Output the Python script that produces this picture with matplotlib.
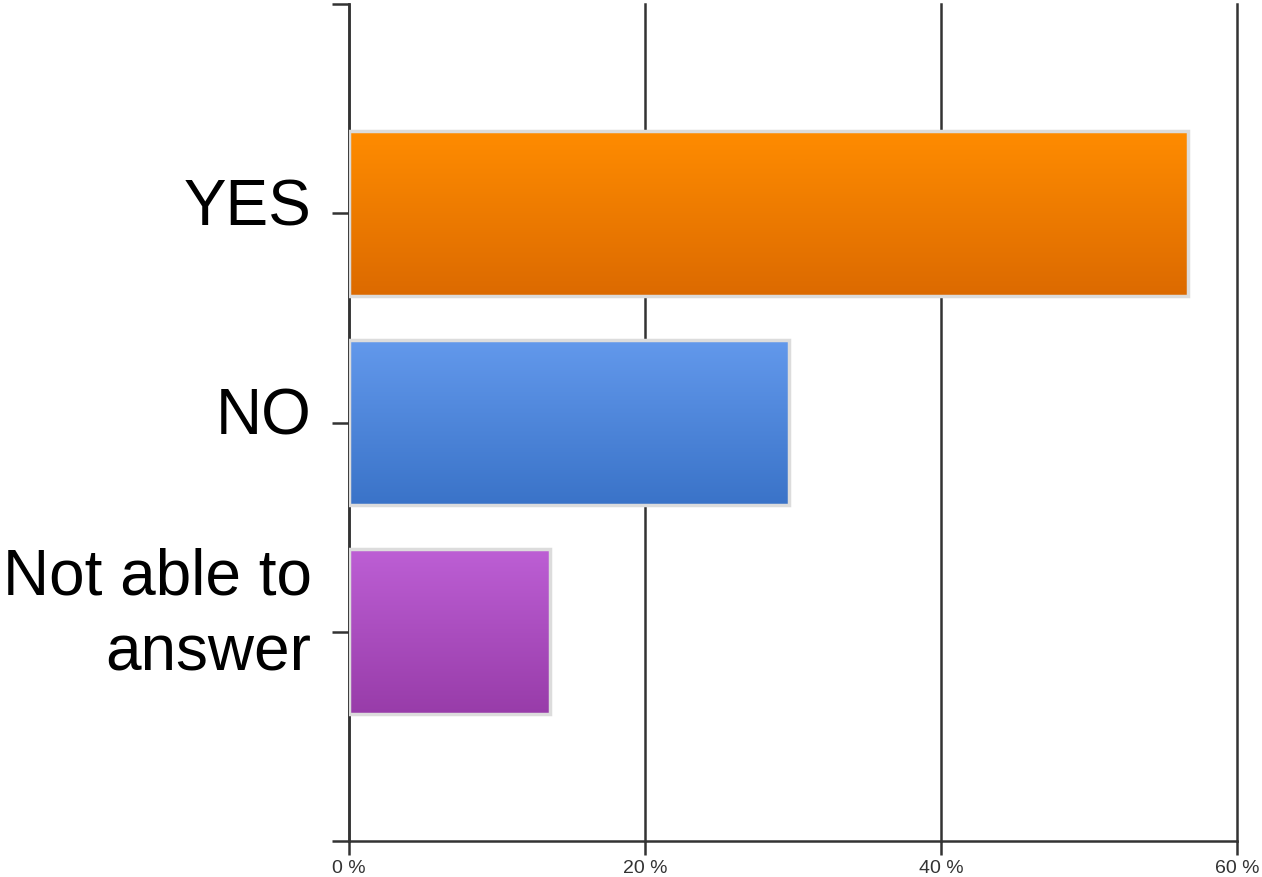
import numpy as np
import matplotlib.pyplot as plt
import matplotlib.transforms as mtransforms
from matplotlib.colors import LinearSegmentedColormap

categories = ['YES', 'NO', 'Not able to\nanswer']
values = [56.7, 29.7, 13.6]
top_colors = ['#ff8c00', '#6399ec', '#bd5fd5']
bottom_colors = ['#dc6a00', '#3a73c8', '#983ca9']
x_ticks = [0, 20, 40, 60]
x_labels = ['0 %', '20 %', '40 %', '60 %']

plt.rcParams['font.family'] = ['Liberation Sans', 'DejaVu Sans']

fig = plt.figure(figsize=(12.62, 8.78), dpi=100)
ax = fig.add_axes([349 / 1262, 36 / 878, 888 / 1262, 837 / 878])

h = 0.79
grad = np.linspace(0, 1, 256).reshape(-1, 1)
for i, v in enumerate(values):
    bar = ax.barh(i, v, height=h, color='none', edgecolor='#dcdcdc',
                  linewidth=2.5, zorder=3)[0]
    cmap = LinearSegmentedColormap.from_list('g%d' % i, [top_colors[i], bottom_colors[i]])
    im = ax.imshow(grad, extent=[0, v, i + h / 2, i - h / 2], aspect='auto',
                   cmap=cmap, origin='upper', zorder=2)
    im.set_clip_path(bar)

ax.set_xlim(0, 60)
ax.set_ylim(3, -1)
ax.set_aspect('auto')

ax.set_xticks(x_ticks)
ax.set_xticklabels(x_labels, fontsize=14, color='#333333')
ax.set_yticks([-1, 0, 1, 2, 3])
ax.set_yticklabels([''] + categories + [''], fontsize=46, color='black',
                   linespacing=1.34)

ax.xaxis.grid(True, color='#333333', linewidth=1.8)
for gl in ax.get_xgridlines():
    gl.set_clip_on(False)
ax.set_axisbelow(True)
ax.tick_params(axis='x', length=10, width=1.8, color='#333333', pad=3)
ax.tick_params(axis='y', length=12, width=1.8, color='#333333', pad=15)

# labels sit a little above their ticks in the original
for lab in ax.get_yticklabels():
    up = 23 if '\n' in lab.get_text() else 9
    shift = mtransforms.ScaledTranslation(0, up / 72, fig.dpi_scale_trans)
    lab.set_transform(lab.get_transform() + shift)

for s in ['top', 'right']:
    ax.spines[s].set_visible(False)
for s in ['left', 'bottom']:
    ax.spines[s].set_color('#333333')
    ax.spines[s].set_linewidth(1.8)

fig.savefig('out.png', dpi=100)
